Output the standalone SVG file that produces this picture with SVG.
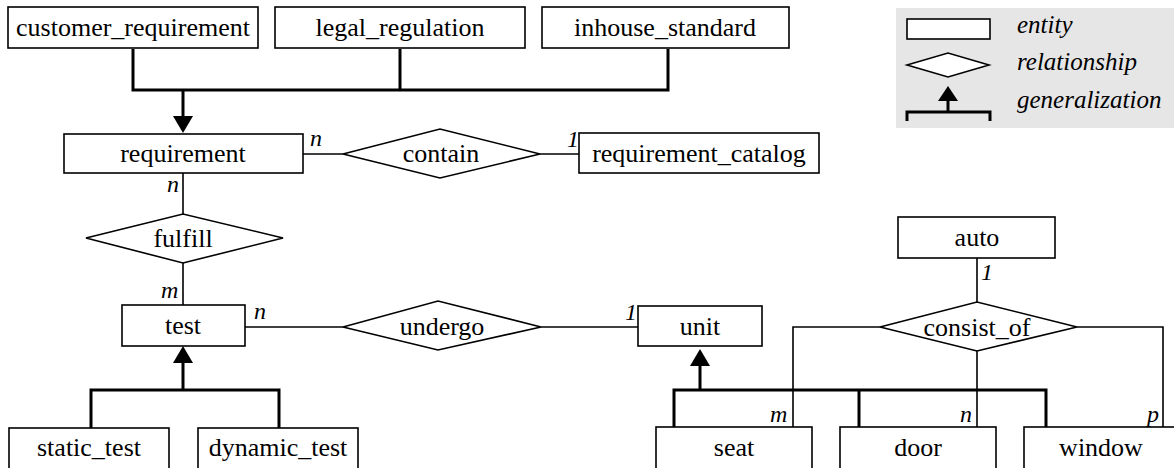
<svg xmlns="http://www.w3.org/2000/svg" width="1174" height="468" viewBox="0 0 1174 468">
  <style>
    .ent { fill: #ffffff; stroke: #000000; stroke-width: 1.6; }
    .rel { fill: #ffffff; stroke: #000000; stroke-width: 1.6; }
    svg text { font-family: 'Liberation Serif', 'Times New Roman', serif !important; fill: #000000; }
    .lbl { font-size: 26px; text-anchor: middle; }
    .card { font-size: 24px; font-style: italic; }
    .key { font-size: 25px; font-style: italic; }
    .thin { fill: none; stroke: #000000; stroke-width: 1.6; }
    .thick { fill: none; stroke: #000000; stroke-width: 3; }
    .head { fill: #000000; stroke: none; }
  </style>

  <!-- legend -->
  <g id="legend">
    <rect x="896" y="8" width="280" height="120" fill="#e6e6e6"/>
    <rect class="ent" x="907" y="19" width="83" height="20"/>
    <text class="key" x="1017" y="33" style="font-family:'Liberation Serif',serif">entity</text>
    <polygon class="rel" points="907,65 948,53 989,65 948,77"/>
    <text class="key" x="1017" y="70" style="font-family:'Liberation Serif',serif">relationship</text>
    <polygon class="head" points="948,86 938,101 958,101"/>
    <path class="thick" d="M948,101 V112 M907,121 V112 H990 V121"/>
    <text class="key" x="1017" y="108" style="font-family:'Liberation Serif',serif">generalization</text>
  </g>

  <!-- connectors -->
  <g id="connectors">
    <!-- requirement generalization -->
    <path class="thick" d="M133,49 V90 H668 V49 M400,49 V90 M183,90 V117"/>
    <polygon class="head" points="183,133 173,116 193,116"/>
    <!-- requirement - contain - requirement_catalog -->
    <path class="thin" d="M303,154 H343 M540,154 H579"/>
    <!-- requirement - fulfill - test -->
    <path class="thin" d="M183,173 V214 M183,263 V305"/>
    <!-- test - undergo - unit -->
    <path class="thin" d="M245,327 H343 M541,327 H638"/>
    <!-- test generalization -->
    <path class="thick" d="M91,428 V390 H279 V428 M183,390 V362"/>
    <polygon class="head" points="183,346 173,363 193,363"/>
    <!-- unit generalization -->
    <path class="thick" d="M674,427 V390 H1046 V427 M859,390 V427 M700,390 V365"/>
    <polygon class="head" points="700,349 690,366 710,366"/>
    <!-- auto - consist_of - parts -->
    <path class="thin" d="M977,258 V302 M880,327 H793 V427 M1077,327 H1163 V427 M977,351 V427"/>
  </g>

  <!-- cardinalities -->
  <g id="cardinalities">
    <text class="card" x="310" y="146" style="font-family:'Liberation Serif',serif">n</text>
    <text class="card" x="567" y="147" style="font-family:'Liberation Serif',serif">1</text>
    <text class="card" x="167" y="192" style="font-family:'Liberation Serif',serif">n</text>
    <text class="card" x="161" y="298" style="font-family:'Liberation Serif',serif">m</text>
    <text class="card" x="254" y="319" style="font-family:'Liberation Serif',serif">n</text>
    <text class="card" x="625" y="320" style="font-family:'Liberation Serif',serif">1</text>
    <text class="card" x="981" y="280" style="font-family:'Liberation Serif',serif">1</text>
    <text class="card" x="770" y="422" style="font-family:'Liberation Serif',serif">m</text>
    <text class="card" x="960" y="422" style="font-family:'Liberation Serif',serif">n</text>
    <text class="card" x="1147" y="422" style="font-family:'Liberation Serif',serif">p</text>
  </g>

  <!-- entities -->
  <g id="customer_requirement">
    <rect class="ent" x="8" y="7" width="250" height="41"/>
    <text class="lbl" x="133" y="36" style="font-family:'Liberation Serif',serif">customer_requirement</text>
  </g>
  <g id="legal_regulation">
    <rect class="ent" x="275" y="7" width="250" height="41"/>
    <text class="lbl" x="400" y="36" style="font-family:'Liberation Serif',serif">legal_regulation</text>
  </g>
  <g id="inhouse_standard">
    <rect class="ent" x="542" y="7" width="247" height="41"/>
    <text class="lbl" x="665" y="36" style="font-family:'Liberation Serif',serif">inhouse_standard</text>
  </g>
  <g id="requirement">
    <rect class="ent" x="64" y="134" width="239" height="39"/>
    <text class="lbl" x="183" y="162" style="font-family:'Liberation Serif',serif">requirement</text>
  </g>
  <g id="contain">
    <polygon class="rel" points="343,154 440,129 540,154 440,178"/>
    <text class="lbl" x="441" y="162" style="font-family:'Liberation Serif',serif">contain</text>
  </g>
  <g id="requirement_catalog">
    <rect class="ent" x="579" y="133" width="240" height="40"/>
    <text class="lbl" x="699" y="162" style="font-family:'Liberation Serif',serif">requirement_catalog</text>
  </g>
  <g id="fulfill">
    <polygon class="rel" points="86,238 183,214 283,238 183,263"/>
    <text class="lbl" x="183" y="247" style="font-family:'Liberation Serif',serif">fulfill</text>
  </g>
  <g id="test">
    <rect class="ent" x="122" y="305" width="123" height="41"/>
    <text class="lbl" x="183" y="334" style="font-family:'Liberation Serif',serif">test</text>
  </g>
  <g id="undergo">
    <polygon class="rel" points="343,327 438,301 541,327 438,350"/>
    <text class="lbl" x="442" y="335" style="font-family:'Liberation Serif',serif">undergo</text>
  </g>
  <g id="unit">
    <rect class="ent" x="638" y="306" width="124" height="40"/>
    <text class="lbl" x="700" y="335" style="font-family:'Liberation Serif',serif">unit</text>
  </g>
  <g id="auto">
    <rect class="ent" x="898" y="217" width="157" height="41"/>
    <text class="lbl" x="977" y="246" style="font-family:'Liberation Serif',serif">auto</text>
  </g>
  <g id="consist_of">
    <polygon class="rel" points="880,327 977,302 1077,327 977,351"/>
    <text class="lbl" x="977" y="336" style="font-family:'Liberation Serif',serif">consist_of</text>
  </g>
  <g id="static_test">
    <rect class="ent" x="9" y="428" width="160" height="42"/>
    <text class="lbl" x="89" y="456" style="font-family:'Liberation Serif',serif">static_test</text>
  </g>
  <g id="dynamic_test">
    <rect class="ent" x="198" y="428" width="160" height="42"/>
    <text class="lbl" x="278" y="456" style="font-family:'Liberation Serif',serif">dynamic_test</text>
  </g>
  <g id="seat">
    <rect class="ent" x="656" y="427" width="156" height="43"/>
    <text class="lbl" x="734" y="456" style="font-family:'Liberation Serif',serif">seat</text>
  </g>
  <g id="door">
    <rect class="ent" x="840" y="427" width="156" height="43"/>
    <text class="lbl" x="918" y="456" style="font-family:'Liberation Serif',serif">door</text>
  </g>
  <g id="window">
    <rect class="ent" x="1024" y="427" width="156" height="43"/>
    <text class="lbl" x="1101" y="456" style="font-family:'Liberation Serif',serif">window</text>
  </g>
</svg>
